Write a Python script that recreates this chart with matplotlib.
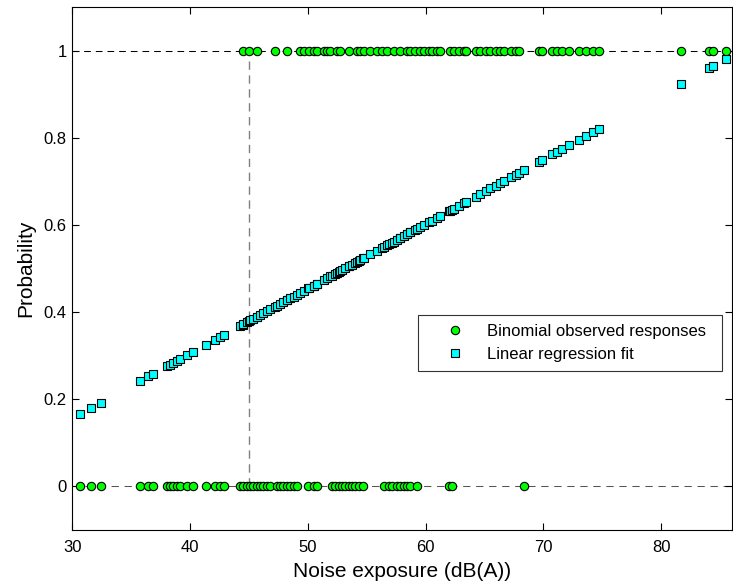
import numpy as np
import matplotlib
matplotlib.use("Agg")
import matplotlib.pyplot as plt

plt.rcParams['font.family'] = ['Liberation Sans', 'DejaVu Sans']

# noise exposure (dB(A)) of subjects who responded 1 (annoyed)
x_one = [44.47, 45.03, 45.68, 47.24, 48.23, 49.37, 49.65, 50.08, 50.5, 50.78,
         51.35, 51.63, 51.9, 52.47, 52.75, 53.46, 54.17, 54.45, 54.73, 55.3,
         55.87, 56.29, 56.72, 57.28, 57.85, 58.41, 58.7, 59.12, 59.55, 59.83,
         60.25, 60.54, 60.96, 61.24, 62.09, 62.38, 62.8, 63.22, 63.4, 64.23,
         64.65, 65.08, 65.5, 65.93, 66.35, 66.64, 67.2, 67.63, 67.9, 69.6,
         69.9, 70.75, 71.17, 71.6, 72.16, 73.0, 73.6, 74.17, 74.73, 81.66,
         84.07, 84.35, 85.48]
# noise exposure of subjects who responded 0
x_zero = [30.65, 31.56, 32.4, 35.75, 36.46, 36.88, 38.02, 38.3, 38.58, 38.87,
          39.15, 39.72, 40.28, 41.36, 42.12, 42.55, 42.89, 44.25, 44.53, 44.82,
          45.1, 45.38, 45.67, 45.95, 46.23, 46.52, 46.8, 47.37, 47.65, 47.93,
          48.22, 48.5, 48.78, 49.07, 50.05, 50.48, 50.76, 52.04, 52.32, 52.6,
          52.89, 53.17, 53.45, 53.74, 54.02, 54.3, 54.72, 56.42, 56.85, 57.13,
          57.56, 57.84, 58.12, 58.41, 58.7, 59.26, 61.95, 62.23, 68.35]

# linear probability model
fit_intercept = -0.289
fit_slope = 0.01485
cutoff = 45

x_all = np.sort(np.array(x_one + x_zero))
p_fit = fit_intercept + fit_slope * x_all

fig = plt.figure(figsize=(7.33, 5.85), dpi=100)
ax = fig.add_axes([0.0986, 0.094, 0.900, 0.894])

ax.plot([30, 86], [1, 1], color='black', lw=0.75, ls=(0, (6.4, 4.8)), zorder=1)
ax.plot([30, 86], [0, 0], color='#555555', lw=0.75, ls=(0, (7, 5.5)), zorder=1)
ax.plot([cutoff, cutoff], [0, 1], color='#808080', lw=1.0, ls=(0, (6, 4)), zorder=1)

ax.plot(x_one + x_zero, [1] * len(x_one) + [0] * len(x_zero), 'o', ms=6,
        mfc='#00ff00', mec='black', mew=0.8, label='Binomial observed responses', zorder=3)
ax.plot(x_all, p_fit, 's', ms=6, mfc='#00ffff', mec='black', mew=0.8,
        label='Linear regression fit', zorder=3)

ax.set_xlim(30, 86)
ax.set_ylim(-0.1, 1.1)
ax.set_xticks([30, 40, 50, 60, 70, 80])
ax.set_yticks([0, 0.2, 0.4, 0.6, 0.8, 1])
ax.set_yticklabels(['0', '0.2', '0.4', '0.6', '0.8', '1'])
ax.tick_params(direction='in', length=5, top=True, right=True, labelsize=12)
ax.tick_params(axis='x', pad=7)
ax.tick_params(axis='y', pad=4)
ax.set_xlabel('Noise exposure (dB(A))', fontsize=15, labelpad=5)
ax.set_ylabel('Probability', fontsize=15, labelpad=6)

leg = ax.legend(loc='upper left', bbox_to_anchor=(0.524, 0.311, 0.461, 0.1),
                mode='expand', borderaxespad=0, fontsize=12,
                frameon=True, fancybox=False, edgecolor='black', borderpad=0.55,
                handlelength=3.4, handletextpad=0.2, labelspacing=0.45)
leg.get_frame().set_linewidth(0.8)

fig.savefig('out.png', dpi=100)
